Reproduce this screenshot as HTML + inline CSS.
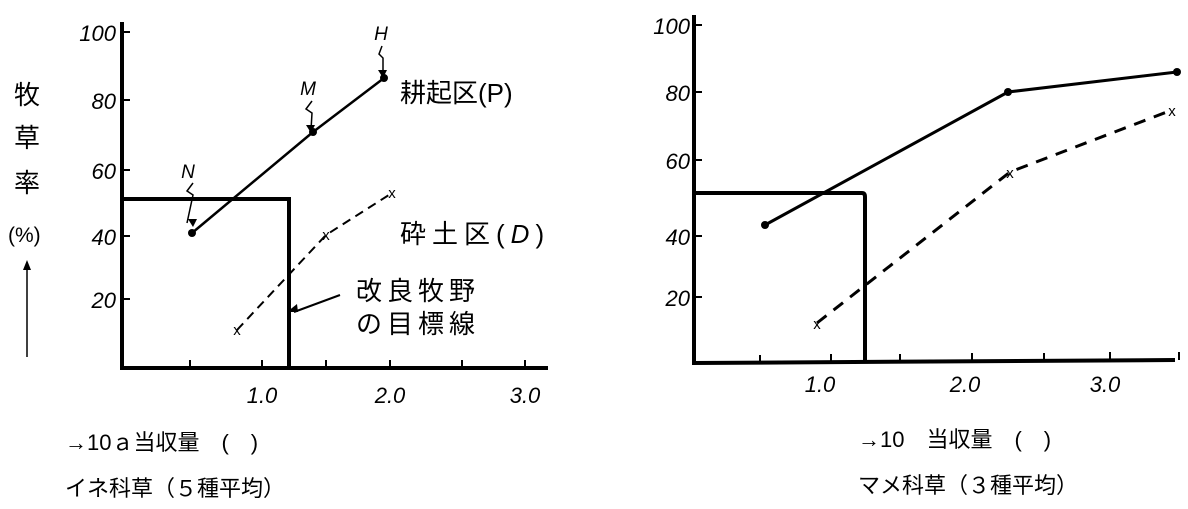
<!DOCTYPE html>
<html><head><meta charset="utf-8"><style>
body{margin:0;background:#fff;width:1188px;height:504px;overflow:hidden}
svg text{font-family:"Liberation Sans","Noto Sans CJK JP",sans-serif;fill:#000}
.it{font-style:italic;font-size:22px}
.ser{font-family:"Liberation Serif","Noto Serif CJK SC",serif}
</style></head><body>
<svg width="1188" height="504" viewBox="0 0 1188 504">
<g stroke="#000" fill="none">
<path d="M122 22 V368 H548" stroke-width="4"/>
<path d="M122 32h8M122 100h8M122 170h8M122 236h8M122 299h8" stroke-width="2"/>
<path d="M190 368v-8M262 368v-8M326 368v-8M390 368v-8M462 368v-8M525 368v-8" stroke-width="2"/>
<path d="M122 199 H289 V368" stroke-width="4"/>
<path d="M192 233 L313 132 L384 78" stroke-width="2.5"/>
<path d="M237 330 L326 235 L392 193" stroke-width="2" stroke-dasharray="9,6"/>
<path d="M193 183 l-6 8 l6 4 l-6 28" stroke-width="1.5"/>
<path d="M312 101 l-6 8 l6 4 l-1 17" stroke-width="1.5"/>
<path d="M382 46 l-3 8 l4 4 l0 18" stroke-width="1.5"/>
<path d="M340 295 L294 312" stroke-width="2"/>
<path d="M27 357 V265" stroke-width="1.5"/>
<path d="M694 15 V363 L1175 360" stroke-width="4"/>
<path d="M694 25h8M694 92h8M694 160h8M694 236h8M694 297h8" stroke-width="2"/>
<path d="M760 363v-8M831 362v-8M900 362v-8M972 361v-8M1044 361v-8M1110 360v-8M1179 360v-8" stroke-width="2"/>
<path d="M694 193 H862 Q865 193 865 197 V363" stroke-width="4"/>
<path d="M765 225 L1008 92 L1177 72" stroke-width="3"/>
<path d="M817 323 L1010 172 L1172 110" stroke-width="3" stroke-dasharray="12,9"/>
</g>
<g fill="#000">
<circle cx="192" cy="233" r="4"/><circle cx="313" cy="132" r="4"/><circle cx="384" cy="78" r="4"/>
<path d="M287 312 l10 -8 l1 8z"/><path d="M27 260 l-4 10 h8z"/><path d="M193 227 l-5 -8 h9z"/><path d="M311 133 l-5 -8 h9z"/><path d="M383 78 l-5 -8 h9z"/>
<circle cx="765" cy="225" r="4"/><circle cx="1008" cy="92" r="4"/><circle cx="1177" cy="72" r="4"/>
</g>
<g class="it" text-anchor="end">
<text x="116" y="41">100</text><text x="116" y="109">80</text><text x="116" y="179">60</text><text x="116" y="245">40</text><text x="116" y="308">20</text>
<text x="690" y="34">100</text><text x="690" y="101">80</text><text x="690" y="169">60</text><text x="690" y="245">40</text><text x="690" y="306">20</text>
</g>
<g class="it" text-anchor="middle">
<text x="262" y="403">1.0</text><text x="390" y="403">2.0</text><text x="525" y="403">3.0</text>
<text x="820" y="392">1.0</text><text x="965" y="392">2.0</text><text x="1105" y="392">3.0</text>
<text x="188" y="178" font-size="19">N</text><text x="308" y="95" font-size="19">M</text><text x="381" y="40" font-size="19">H</text>
</g>
<g font-size="15" text-anchor="middle">
<text x="237" y="335">x</text><text x="326" y="240">x</text><text x="392" y="198">x</text>
<text x="817" y="329">x</text><text x="1010" y="178">x</text><text x="1172" y="116">x</text>
</g>
<g font-size="26">
<text x="400" y="102">耕起区(P)</text>
<text x="400" y="243" letter-spacing="6">砕土区(<tspan font-style="italic">D</tspan>)</text>
<text x="356" y="300" letter-spacing="5">改良牧野</text>
<text x="356" y="333" letter-spacing="5">の目標線</text>
<text x="14" y="104">牧</text><text x="14" y="147">草</text><text x="14" y="192">率</text>
<text x="8" y="242" font-size="21">(%)</text>
</g>
<g font-size="22" class="ser">
<text x="65" y="450">→10ａ当収量　(　)</text>
<text x="65" y="496">イネ科草（５種平均）</text>
<text x="858" y="447">→10　当収量　(　)</text>
<text x="858" y="493">マメ科草（３種平均）</text>
</g>
</svg>
</body></html>
